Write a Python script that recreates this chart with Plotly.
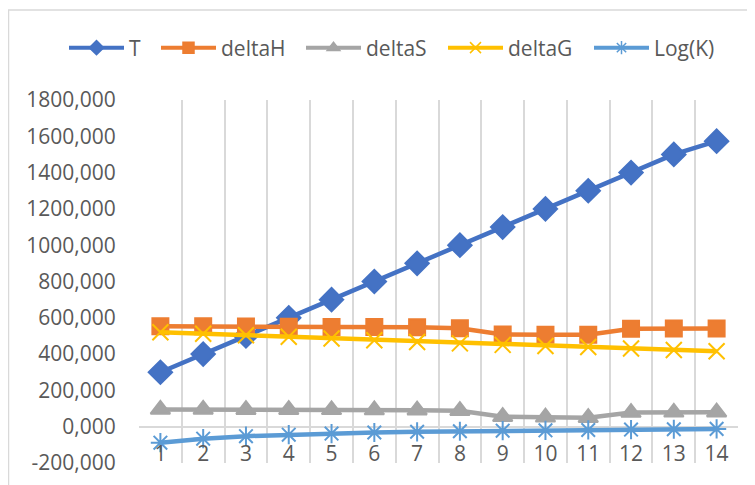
import plotly.graph_objects as go

categories = [str(i) for i in range(1, 15)]
T = [300, 400, 500, 600, 700, 800, 900, 1000, 1100, 1200, 1300, 1400, 1500, 1573]
deltaH = [553, 553, 552, 551, 550, 549, 548, 542, 508, 507, 507, 540, 541, 541]
deltaS = [95, 95, 94, 94, 93, 92, 91, 88, 55, 52, 50, 78, 79, 80]
deltaG = [520, 512, 504, 496, 486, 476, 467, 459, 451, 445, 439, 431, 423, 416]
logK = [-88, -66, -52, -44, -38, -32, -28, -25, -22, -20, -18, -16, -14, -12]

y_tickvals = [-200, 0, 200, 400, 600, 800, 1000, 1200, 1400, 1600, 1800]
y_ticktext = ["-200,000", "0,000", "200,000", "400,000", "600,000", "800,000",
              "1000,000", "1200,000", "1400,000", "1600,000", "1800,000"]

series = [
    ("T", T, "#4472C4", "diamond", 18),
    ("deltaH", deltaH, "#ED7D31", "square", 16),
    ("deltaS", deltaS, "#A5A5A5", "triangle-up", 17),
    ("deltaG", deltaG, "#FFC000", "x-thin-open", 16),
    ("Log(K)", logK, "#5B9BD5", "asterisk-open", 16),
]

OFF = 8  # page body margin offset
W, H = 755, 485
L, R, T_, B = 139 - OFF, 738 - OFF, 100 - OFF, 463 - OFF
pw, ph = R - L, B - T_

def px_x(x):
    return (x - L) / pw

def px_y(y):
    return (B - y) / ph

FONT = "Open Sans"
legend_ids = ["legend", "legend2", "legend3", "legend4", "legend5"]
legend_px = [56, 148, 293, 435, 581]

fig = go.Figure()
for name, vals, color, sym, size in series:
    fig.add_trace(go.Scatter(
        x=categories, y=vals, name=name, mode="lines+markers",
        line=dict(color=color, width=4.5), showlegend=False,
        marker=dict(symbol=sym, size=size, color=color,
                    line=dict(color=color, width=2)),
    ))
# legend entries (small markers as in the reference legend)
for (name, vals, color, sym, size), lid in zip(series, legend_ids):
    fig.add_trace(go.Scatter(
        x=[categories[0]], y=[None], name=name, mode="lines+markers",
        line=dict(color=color, width=4), showlegend=True, legend=lid,
        marker=dict(symbol=sym, size=11, color=color,
                    line=dict(color=color, width=1.5)),
    ))

legend_layout = {}
for lid, lx in zip(legend_ids, legend_px):
    legend_layout[lid] = dict(
        orientation="h", x=px_x(lx), xanchor="left", y=px_y(40), yanchor="middle",
        font=dict(family=FONT, size=21, color="#595959"), itemwidth=55,
        bgcolor="rgba(0,0,0,0)")

fig.update_layout(
    width=W, height=H,
    margin=dict(l=L, r=W - R, t=T_, b=H - B, autoexpand=False),
    paper_bgcolor="white", plot_bgcolor="white",
    font=dict(family=FONT, size=21, color="#595959"),
    showlegend=True,
    xaxis=dict(type="category", range=[-0.5, 13.5], showgrid=True, gridcolor="#d9d9d9",
               gridwidth=1.5, tickson="boundaries", ticks="", showline=False,
               zeroline=False, automargin=False, ticklabelstandoff=-24,
               tickfont=dict(family=FONT, size=21, color="#595959")),
    yaxis=dict(range=[-200, 1800], tickvals=y_tickvals, ticktext=y_ticktext,
               showgrid=False, zeroline=True, zerolinecolor="#d9d9d9", zerolinewidth=1.5,
               showline=False, ticks="outside", ticklen=18, tickcolor="rgba(0,0,0,0)",
               automargin=False,
               tickfont=dict(family=FONT, size=21, color="#595959")),
    shapes=[dict(type="rect", xref="paper", yref="paper",
                 x0=px_x(0.5), x1=px_x(770), y0=px_y(500), y1=px_y(2),
                 line=dict(color="#d9d9d9", width=1.5), fillcolor="rgba(0,0,0,0)",
                 layer="below")],
    **legend_layout,
)

fig.write_html("out.html")
